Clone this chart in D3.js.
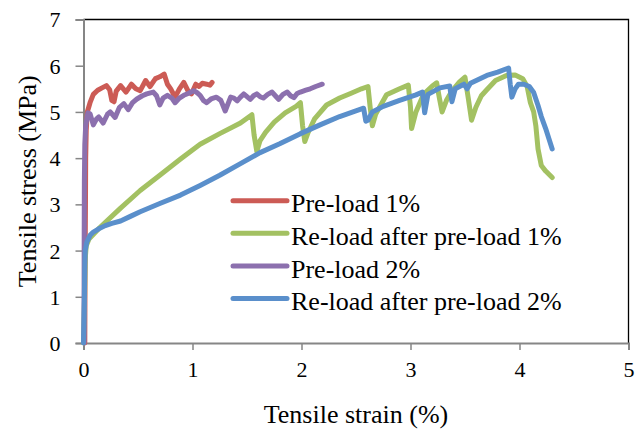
<!DOCTYPE html>
<html>
<head>
<meta charset="utf-8">
<script src="https://cdn.jsdelivr.net/npm/d3@7/dist/d3.min.js"></script>
<style>
html,body{margin:0;padding:0;background:#fff;}
svg{display:block;font-family:"Liberation Serif","Times New Roman",serif;}
</style>
</head>
<body>
<svg id="chart" width="635" height="432"></svg>
<script>
// ---- data: [strain %, stress MPa] ----
const preload1 = [[0.012,0],[0.014,1.5],[0.018,3.0],[0.02,4.0],[0.025,4.6],[0.035,5.0],[0.06,5.2],[0.09,5.38],[0.13,5.47],[0.17,5.52],[0.21,5.57],[0.24,5.48],[0.26,5.25],[0.28,5.22],[0.30,5.45],[0.34,5.57],[0.39,5.43],[0.44,5.6],[0.48,5.5],[0.52,5.46],[0.57,5.68],[0.61,5.55],[0.66,5.72],[0.70,5.76],[0.74,5.82],[0.77,5.6],[0.80,5.5],[0.84,5.32],[0.88,5.5],[0.92,5.64],[0.96,5.45],[0.99,5.39],[1.03,5.6],[1.06,5.55],[1.09,5.62],[1.13,5.6],[1.16,5.58],[1.18,5.64]];
const reload1 = [[0.0,0],[0.01,1.0],[0.015,1.8],[0.025,2.1],[0.05,2.25],[0.15,2.5],[0.34,2.92],[0.52,3.3],[0.70,3.63],[0.89,3.98],[1.07,4.3],[1.25,4.53],[1.44,4.76],[1.545,4.94],[1.565,4.5],[1.59,4.15],[1.62,4.38],[1.67,4.56],[1.75,4.78],[1.85,4.98],[1.95,5.12],[1.99,5.2],[2.01,4.7],[2.03,4.36],[2.06,4.55],[2.12,4.85],[2.23,5.15],[2.35,5.3],[2.45,5.4],[2.55,5.5],[2.61,5.55],[2.63,5.1],[2.65,4.7],[2.68,4.95],[2.78,5.37],[2.9,5.5],[2.98,5.58],[3.0,5.1],[3.01,4.64],[3.05,5.0],[3.12,5.38],[3.2,5.56],[3.24,5.63],[3.265,5.3],[3.29,5.0],[3.33,5.25],[3.38,5.45],[3.45,5.65],[3.50,5.75],[3.53,5.3],[3.56,4.82],[3.6,5.1],[3.65,5.35],[3.70,5.48],[3.78,5.68],[3.88,5.79],[3.96,5.8],[4.03,5.72],[4.07,5.55],[4.10,5.2],[4.13,5.0],[4.15,4.7],[4.17,4.2],[4.20,3.84],[4.24,3.72],[4.30,3.58]];
const preload2 = [[0.005,0],[0.006,2.0],[0.008,3.5],[0.012,4.3],[0.02,4.7],[0.04,4.98],[0.06,4.96],[0.09,4.72],[0.12,4.85],[0.14,4.89],[0.18,4.76],[0.22,4.95],[0.245,5.0],[0.29,4.88],[0.33,5.1],[0.37,5.18],[0.41,5.05],[0.45,5.2],[0.49,5.28],[0.54,5.35],[0.58,5.39],[0.64,5.43],[0.67,5.35],[0.70,5.15],[0.73,5.3],[0.77,5.36],[0.81,5.3],[0.84,5.2],[0.88,5.3],[0.92,5.36],[0.96,5.4],[1.01,5.46],[1.04,5.42],[1.07,5.36],[1.10,5.25],[1.13,5.2],[1.17,5.28],[1.22,5.32],[1.26,5.25],[1.30,5.02],[1.33,5.2],[1.35,5.32],[1.38,5.3],[1.41,5.24],[1.44,5.32],[1.47,5.39],[1.50,5.33],[1.53,5.27],[1.56,5.35],[1.59,5.39],[1.62,5.33],[1.65,5.3],[1.69,5.38],[1.73,5.43],[1.76,5.35],[1.79,5.27],[1.83,5.38],[1.87,5.43],[1.90,5.35],[1.93,5.31],[1.96,5.4],[1.99,5.43],[2.04,5.47],[2.08,5.5],[2.13,5.55],[2.19,5.6]];
const reload2 = [[0.0,0],[0.008,1.0],[0.012,1.7],[0.016,2.0],[0.03,2.18],[0.06,2.33],[0.09,2.4],[0.14,2.47],[0.2,2.54],[0.26,2.59],[0.34,2.64],[0.43,2.74],[0.52,2.84],[0.70,3.02],[0.89,3.2],[1.07,3.41],[1.25,3.63],[1.44,3.88],[1.62,4.12],[1.80,4.31],[1.99,4.53],[2.17,4.72],[2.35,4.9],[2.57,5.08],[2.59,4.8],[2.61,4.82],[2.65,5.0],[2.75,5.12],[2.9,5.25],[3.05,5.37],[3.11,5.43],[3.13,4.98],[3.16,5.38],[3.27,5.52],[3.36,5.56],[3.38,5.22],[3.41,5.5],[3.49,5.6],[3.52,5.5],[3.55,5.62],[3.70,5.79],[3.80,5.86],[3.90,5.95],[3.915,5.6],[3.93,5.32],[3.96,5.5],[3.99,5.6],[4.04,5.6],[4.09,5.55],[4.13,5.42],[4.17,5.14],[4.20,4.9],[4.24,4.64],[4.27,4.42],[4.30,4.2]];

const seriesNames = ["Pre-load 1%","Re-load after pre-load 1%","Pre-load 2%","Re-load after pre-load 2%"];
const seriesData = [preload1, reload1, preload2, reload2];
const seriesColors = ["#CC5B55","#A3C162","#8C70AE","#5A8FCB"];
const xTicks = [0,1,2,3,4,5];
const yTicks = [0,1,2,3,4,5,6,7];
const xTitle = "Tensile strain (%)";
const yTitle = "Tensile stress (MPa)";

// ---- layout ----
const L = 83.5, R = 628.5, T = 19.5, B = 343;
const svg = d3.select("#chart");
const x = d3.scaleLinear().domain([0,5]).range([L,R]);
const y = d3.scaleLinear().domain([0,7]).range([B,T]);

// plot border (top/right black)
svg.append("path")
  .attr("d", `M${L},${T}H${R}V${B}`)
  .attr("fill","none").attr("stroke","#000").attr("stroke-width",1.3);

const axisColor = "#868686";
const gx = svg.append("g").attr("transform",`translate(0,${B})`)
  .call(d3.axisBottom(x).tickValues(xTicks).tickFormat(d3.format("d")).tickSizeOuter(0).tickSize(7).tickPadding(11));
const gy = svg.append("g").attr("transform",`translate(${L},0)`)
  .call(d3.axisLeft(y).tickValues(yTicks).tickFormat(d3.format("d")).tickSizeOuter(0).tickSize(8).tickPadding(15));
[gx,gy].forEach(g=>{
  g.select(".domain").attr("stroke",axisColor).attr("stroke-width",2);
  g.selectAll(".tick line").attr("stroke",axisColor).attr("stroke-width",1.5);
  g.selectAll(".tick text").attr("fill","#000").style("font-size","22px")
   .style("font-family",'"Liberation Serif","Times New Roman",serif');
});
gy.selectAll(".tick text").attr("dy","0.34em");

// lines
const line = d3.line().x(d=>x(d[0])).y(d=>y(d[1])).curve(d3.curveLinear);
svg.append("g").selectAll("path").data(seriesData).join("path")
  .attr("d", line).attr("fill","none")
  .attr("stroke",(d,i)=>seriesColors[i]).attr("stroke-width",5)
  .attr("stroke-linejoin","round").attr("stroke-linecap","round");

// titles
svg.append("text").attr("x",(L+R)/2).attr("y",423).attr("text-anchor","middle")
  .style("font-size","26px").text(xTitle);
svg.append("text").attr("transform",`translate(36,${(T+B)/2}) rotate(-90)`)
  .attr("text-anchor","middle").style("font-size","26px").text(yTitle);

// legend
const lg = svg.append("g").attr("transform","translate(233,200.7)");
const items = lg.selectAll("g").data(seriesNames).join("g")
  .attr("transform",(d,i)=>`translate(0,${i*32.6})`);
items.append("line").attr("x1",0).attr("x2",54).attr("y1",0).attr("y2",0)
  .attr("stroke",(d,i)=>seriesColors[i]).attr("stroke-width",5).attr("stroke-linecap","round");
items.append("text").attr("x",58).attr("y",11.6).style("font-size","26px").text(d=>d);
</script>
</body>
</html>
